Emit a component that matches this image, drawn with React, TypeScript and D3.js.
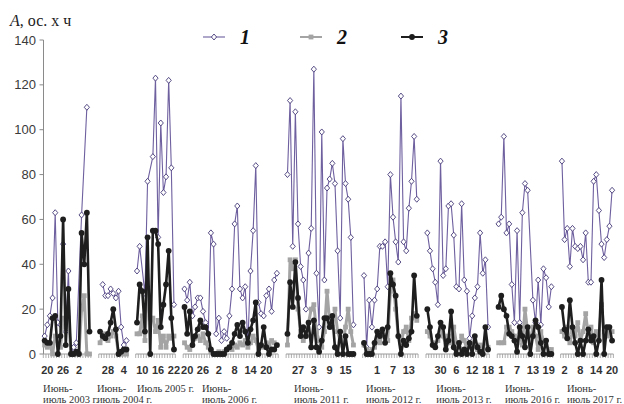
import * as d3 from "d3";

// one entry per observation period
const periods = ["2003", "2004", "2005", "2006", "2011", "2012", "2013", "2016", "2017"];
const firstDay = [19, 25, 8, 19, 23, 26, 25, 30, 1];
const firstMonthLen = [30, 30, 31, 30, 30, 30, 30, 30, 31];
// category index of the first day of each period (blank categories between periods)
const periodStart = [1, 22, 36, 54, 93, 122, 146, 173, 197];
const dayTicks = [
  ["20", "26", "2"],
  ["28", "4"],
  ["10", "16", "22"],
  ["20", "26", "2", "8", "14", "20"],
  ["27", "3", "9", "15"],
  ["1", "7", "13"],
  ["30", "6", "12", "18"],
  ["1", "7", "13", "19"],
  ["2", "8", "14", "20"],
];
const captions = [
  ["Июнь-", "июль 2003 г."],
  ["Июнь-", "июль 2004 г."],
  ["Июль 2005 г."],
  ["Июнь-", "июль 2006 г."],
  ["Июнь-", "июль 2011 г."],
  ["Июнь-", "июль 2012 г."],
  ["Июнь-", "июль 2013 г."],
  ["Июнь-", "июль 2016 г."],
  ["Июнь-", "июль 2017 г."],
];
const captionShift = [-0.6, -1.2, 0, 6.6, 2.5, 0.8, 3.4, 2.4, 1.9];

type V = number | null;

// series 1
const series1: V[][] = [
  [8, 13, 17, 25, 63, 14, 13, 49, 10, 37, 0, 3, 5, null, 62, null, 110, null],
  [null, 31, 26, 26, 29, 27, 25, 28, 12, 4, 6],
  [37, 48, null, 27, 77, null, 88, 123, 52, 103, 72, 79, 122, 83, 22],
  [29, 24, 32, 17, 21, 25, 25, 19, 14, 9, 54, 49, 9, 16, 6, 10, 7, 17, 29, 58, 66, 29, 25, 30, 4, 37, 55, 84, 23, 18, 17, 26, 29, 19, 33, 36],
  [80, 113, 48, 108, 58, 39, 33, 20, 45, 56, 127, 36, 12, 99, 33, 74, 78, 85, 76, 46, 16, 96, 76, 69, 52, 13],
  [35, 3, 24, 12, 24, 29, 48, 48, 50, 30, 80, 61, 50, 41, 115, 50, 46, 65, 77, 97, 69],
  [54, 46, 38, 32, 22, 86, 35, 38, 66, 67, 53, 30, 29, 67, 33, 28, 7, 17, 25, 30, 54, 36, 42, 12],
  [58, 61, 97, 54, 58, 31, 14, 55, 14, 63, 76, 73, null, 24, 14, 33, 13, 38, 34, 21, 30],
  [86, 51, 56, 39, 56, 48, 47, 48, 42, 54, 32, 32, 77, 80, 64, 49, 43, 51, 57, 73],
];

// series 2
const series2: V[][] = [
  [4, 3, 4, 0, 8, 6, 3, 16, 12, 16, 0, 0, 0, 0, 20, 26, 0, 0],
  [5, 8, 9, 6, 8, 10, 8, 0, 0, 0, 0],
  [9, 9, 17, 6, 29, 16, 16, 10, 15, 3, 8, 3, 8, 7, 8],
  [5, 3, 2, 4, 7, 8, 6, 9, 5, 3, 1, 0, 0, 1, 0, 1, 2, 3, 2, 4, 3, 5, 4, 6, 3, 5, 8, 6, 2, 4, 3, 5, 4, 6, 5, 4],
  [4, 42, 38, 42, 20, 10, 6, 8, 14, 20, 22, 10, 6, 3, 10, 28, 14, 12, 20, 10, 6, 4, 12, 20, 10, 4],
  [4, 2, 1, 2, 3, 6, 5, 10, 8, 6, 28, 33, 20, 8, 5, 10, 12, 6, 16, 18, 15],
  [10, 8, 5, 4, 6, 10, 8, 4, 8, 5, 12, 5, 3, 8, 6, 2, 4, 3, 6, 2, 4, 2, 6, 3],
  [5, 5, 5, 12, 12, 10, 8, 5, 10, 4, 20, 10, 6, 12, 8, 2, 10, 6, 4, 2, 2],
  [10, 8, 12, 5, 10, 8, 14, 6, 10, 18, 8, 12, 5, 10, 8, 22, 10, 12, 8, 10],
];

// series 3
const series3: V[][] = [
  [6, 5, 5, 16, 17, 0, 8, 60, 4, 29, 0, 0, 1, 0, 54, 40, 63, 10],
  [10, 8, 7, 9, 14, 20, 11, 0, 1, 2, 2],
  [14, 31, 28, 10, 52, 0, 55, 55, 49, 12, 22, 31, 46, 16, 2],
  [21, 9, 19, 4, 8, 11, 15, 12, 12, 9, 2, 0, 0, 0, 0, 0, 2, 3, 5, 9, 13, 8, 14, 10, 5, 11, 15, 23, 0, 4, 12, 3, 0, 2, 2, 4],
  [9, 32, 21, 41, 25, 8, 12, 8, 14, 3, 15, 3, 1, 6, 16, 16, 12, 17, 3, 0, 10, 0, 8, 0, 0, 0],
  [5, 0, 0, 0, 5, 10, 8, 11, 5, 12, 36, 31, 26, 8, 0, 6, 4, 7, 10, 35, 17],
  [20, 12, 4, 3, 8, 14, 12, 2, 6, 19, 3, 0, 5, 0, 2, 0, 5, 0, 8, 3, 1, 0, 12, 2],
  [21, 26, 20, 17, 9, 8, 6, 1, 12, 8, 3, 12, 0, 8, 15, 12, 5, 0, 6, 0, 0],
  [21, 11, 7, 24, 12, 5, 0, 6, 0, 6, 11, 6, 8, 0, 6, 33, 0, 12, 12, 6],
];

const yTicks = [0, 20, 40, 60, 80, 100, 120, 140];
const legendLabels = ["1", "2", "3"];

const W = 624;
const H = 404;
const x = d3.scaleLinear().domain([0, 219]).range([42, 620]);
const y = d3.scaleLinear().domain([0, 140]).range([354, 40]);

const styles = [
  { stroke: "#6e5f9f", width: 1.1, marker: "diamond", fill: "#fff", mstroke: "#463a78" },
  { stroke: "#a4a4a4", width: 3, marker: "square", fill: "#a4a4a4", mstroke: "none" },
  { stroke: "#1e1e1e", width: 2.6, marker: "circle", fill: "#1e1e1e", mstroke: "none" },
];

type Pt = { u: number; v: number };

const toPoints = (p: number, vals: V[]): Pt[] =>
  vals
    .map((v, i) => (v == null ? null : { u: periodStart[p] + i, v }))
    .filter((d): d is Pt => d !== null);

const line = d3
  .line<Pt>()
  .x((d) => x(d.u))
  .y((d) => y(d.v));

const Marker = ({ kind, cx, cy }: { kind: string; cx: number; cy: number }) => {
  if (kind === "diamond") {
    const s = styles[0];
    return (
      <path
        d={`M${cx},${cy - 3}L${cx + 2.6},${cy}L${cx},${cy + 3}L${cx - 2.6},${cy}Z`}
        fill={s.fill}
        stroke={s.mstroke}
        strokeWidth={0.9}
      />
    );
  }
  if (kind === "square") {
    return <rect x={cx - 2.4} y={cy - 2.4} width={4.8} height={4.8} fill={styles[1].fill} />;
  }
  return <circle cx={cx} cy={cy} r={2.9} fill={styles[2].fill} />;
};

const dayOf = (p: number, i: number) => {
  const d = firstDay[p] + i;
  return d > firstMonthLen[p] ? d - firstMonthLen[p] : d;
};

export default function App() {
  const allSeries = [series1, series2, series3];
  const y0 = y(0);
  const axisX = 43.5;

  return (
    <svg
      width={W}
      height={H}
      style={{ position: "absolute", left: 0, top: 0, background: "#fff" }}
      fontFamily="Liberation Sans, Arial, sans-serif"
    >
      {/* y axis */}
      <line x1={axisX} x2={axisX} y1={y(0)} y2={y(140)} stroke="#8a8a8a" strokeWidth={1} />
      {yTicks.map((t) => (
        <g key={t}>
          <line x1={axisX - 4} x2={axisX} y1={y(t)} y2={y(t)} stroke="#8a8a8a" />
          <text x={36} y={y(t) + 4.6} textAnchor="end" fontSize={13} fill="#3a3a3a">
            {t}
          </text>
        </g>
      ))}
      <text x={10} y={26} fontFamily="Liberation Serif, Times New Roman, serif" fontSize={16} fill="#222">
        <tspan fontStyle="italic">A</tspan>, ос. х ч
      </text>

      {/* x axis per period */}
      {periods.map((yr, p) => {
        const n = series3[p].length;
        const start = periodStart[p];
        return (
          <g key={yr}>
            <line
              x1={x(start - 0.5)}
              x2={x(start + n - 0.5)}
              y1={y0}
              y2={y0}
              stroke="#9a9a9a"
            />
            {d3.range(n + 1).map((i) => (
              <line
                key={i}
                x1={x(start + i - 0.5)}
                x2={x(start + i - 0.5)}
                y1={y0}
                y2={y0 + 4}
                stroke="#9a9a9a"
                strokeWidth={0.8}
              />
            ))}
            {d3.range(n).map((i) => {
              const d = String(dayOf(p, i));
              if (!dayTicks[p].includes(d)) return null;
              return (
                <text
                  key={"l" + i}
                  x={x(start + i)}
                  y={374}
                  textAnchor="middle"
                  fontSize={11}
                  fontWeight="bold"
                  fill="#333"
                >
                  {d}
                </text>
              );
            })}
            {captions[p].map((c, k) => (
              <text
                key={"c" + k}
                x={x(start + captionShift[p])}
                y={392 + k * 10.5}
                fontFamily="Liberation Serif, Times New Roman, serif"
                fontSize={10.5}
                fill="#333"
              >
                {c}
              </text>
            ))}
          </g>
        );
      })}

      {/* data */}
      {allSeries.map((series, s) => (
        <g key={s}>
          {series.map((vals, p) => {
            const pts = toPoints(p, vals);
            return (
              <g key={p}>
                <path
                  d={line(pts) ?? ""}
                  fill="none"
                  stroke={styles[s].stroke}
                  strokeWidth={styles[s].width}
                  strokeLinejoin="round"
                />
                {pts.map((d, i) => (
                  <Marker key={i} kind={styles[s].marker} cx={x(d.u)} cy={y(d.v)} />
                ))}
              </g>
            );
          })}
        </g>
      ))}

      {/* legend */}
      {legendLabels.map((lab, i) => {
        const lx = [203, 300, 401][i];
        return (
          <g key={lab}>
            <line
              x1={lx}
              x2={lx + 22}
              y1={37}
              y2={37}
              stroke={styles[i].stroke}
              strokeWidth={i === 0 ? 1.1 : 2}
            />
            <Marker kind={styles[i].marker} cx={lx + 11} cy={37} />
            <text
              x={lx + 37}
              y={44}
              fontFamily="Liberation Serif, Times New Roman, serif"
              fontStyle="italic"
              fontWeight="bold"
              fontSize={20}
              fill="#111"
            >
              {lab}
            </text>
          </g>
        );
      })}
    </svg>
  );
}
